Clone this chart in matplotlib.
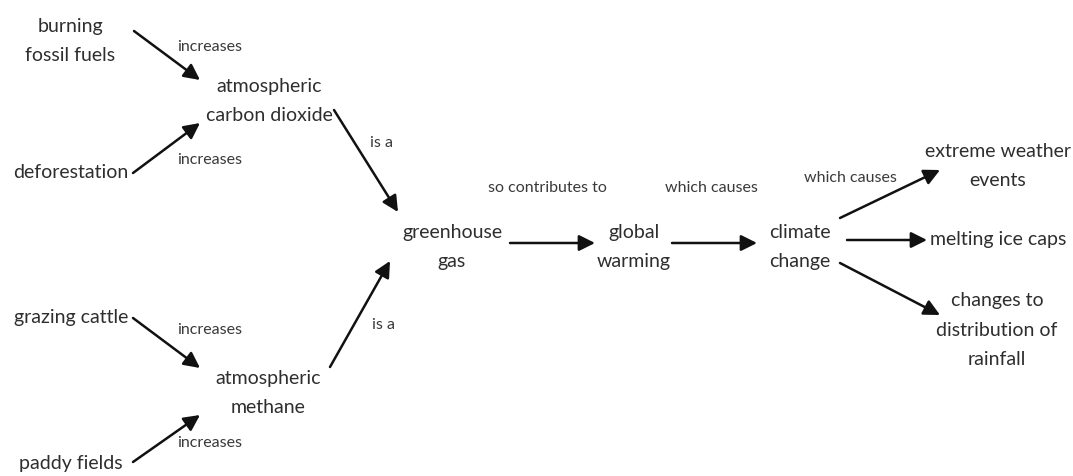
import matplotlib.pyplot as plt
from matplotlib.patches import FancyArrowPatch

plt.rcParams['font.family'] = ['Lato', 'DejaVu Sans']

### concept nodes (pixel positions, y down) ###
node_text = ['burning\nfossil fuels', 'deforestation', 'atmospheric\ncarbon dioxide',
             'grazing cattle', 'paddy fields', 'atmospheric\nmethane',
             'greenhouse\ngas', 'global\nwarming', 'climate\nchange',
             'extreme weather\nevents', 'melting ice caps',
             'changes to\ndistribution of\nrainfall']
node_x = [70, 71, 269, 71, 71, 268, 452, 634, 800, 998, 998, 997]
node_y = [41, 172, 101, 318, 463, 393, 247, 247, 247, 166, 240, 330]

### links: start point -> arrow tip ###
link_x0 = [134, 133, 334, 133, 133, 330, 510, 672, 840, 847, 840]
link_y0 = [31, 173, 110, 318, 462, 367, 243, 243, 218, 240, 263]
link_x1 = [200, 200, 398, 200, 200, 390, 595, 757, 940, 927, 940]
link_y1 = [80, 123, 212, 368, 415, 261, 243, 243, 170, 240, 315]

### link labels ###
lab_text = ['increases', 'increases', 'increases', 'increases', 'is a', 'is a',
            'so contributes to', 'which causes', 'which causes']
lab_x = [210, 210, 210, 210, 382, 383, 547, 711, 850]
lab_y = [47, 160, 330, 443, 143, 325, 188, 188, 178]

fig = plt.figure(figsize=(10.73, 4.76), dpi=100)
ax = fig.add_axes([0, 0, 1, 1])
ax.set_xlim(0, 1073)
ax.set_ylim(476, 0)
ax.axis('off')

for t, x, y in zip(node_text, node_x, node_y):
    ax.text(x, y, t, ha='center', va='center', fontsize=14,
            color='#2e2e2e', linespacing=1.9)

for t, x, y in zip(lab_text, lab_x, lab_y):
    ax.text(x, y, t, ha='center', va='center', fontsize=11.5, color='#3a3a3a')

for x0, y0, x1, y1 in zip(link_x0, link_y0, link_x1, link_y1):
    ax.add_patch(FancyArrowPatch((x0, y0), (x1, y1), arrowstyle='-|>',
                                 mutation_scale=24, lw=1.8, color='#111111',
                                 shrinkA=0, shrinkB=0))

fig.savefig('out.png', dpi=100, facecolor='white')
